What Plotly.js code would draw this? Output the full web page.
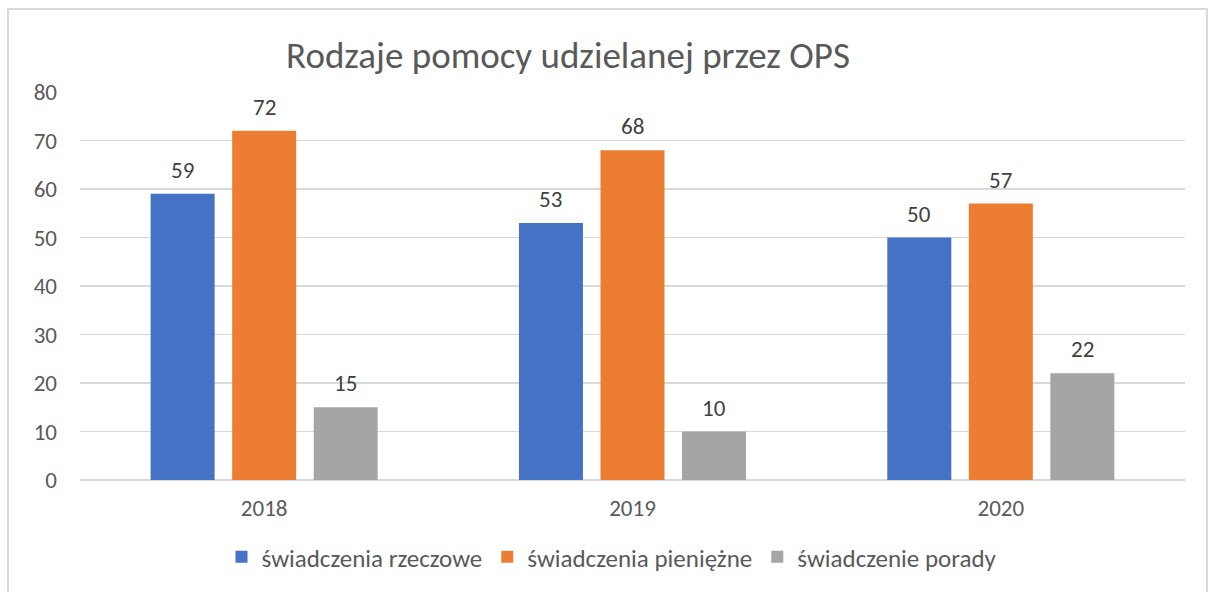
<!DOCTYPE html>
<html>
<head>
<meta charset="utf-8">
<script src="https://cdn.plot.ly/plotly-3.0.1.min.js"></script>
<style>html,body{margin:0;padding:0;background:#fff;}#chart{width:1209px;height:592px;}</style>
</head>
<body>
<div id="chart"></div>
<script>
const years = ['2018', '2019', '2020'];
const seriesNames = ['świadczenia rzeczowe', 'świadczenia pieniężne', 'świadczenie porady'];
const rzeczowe = [59, 53, 50];
const pieniezne = [72, 68, 57];
const porady = [15, 10, 22];
const colors = ['#4472C4', '#ED7D31', '#A5A5A5'];
const yTicks = [0, 10, 20, 30, 40, 50, 60, 70, 80];

const W = 1209, H = 592;
const m = {l: 80, r: 24, t: 92, b: 112};
const pw = W - m.l - m.r, ph = H - m.t - m.b;
const fx = px => (px - m.l) / pw;
const fy = py => (H - m.b - py) / ph;

const font = 'Calibri, Carlito, "Open Sans", sans-serif';
const seriesVals = [rzeczowe, pieniezne, porady];
const bargap = 0.336, bargroupgap = 0.215;
const slotPx = pw / years.length * (1 - bargap) / seriesVals.length;

const data = seriesVals.map((vals, i) => ({
  type: 'bar',
  name: seriesNames[i],
  x: years,
  y: vals,
  marker: {color: colors[i]}
}));

const annotations = [];
seriesVals.forEach((vals, i) => {
  vals.forEach((v, j) => {
    annotations.push({
      x: j, y: v, xref: 'x', yref: 'y',
      text: String(v), showarrow: false,
      xanchor: 'center', yanchor: 'middle',
      xshift: (i - 1) * slotPx, yshift: 24,
      font: {family: font, size: 23, color: '#404040'}
    });
  });
});

const layout = {
  width: W, height: H,
  margin: m,
  paper_bgcolor: '#fff', plot_bgcolor: '#fff',
  font: {family: font, color: '#595959'},
  barmode: 'group',
  bargap: bargap,
  bargroupgap: bargroupgap,
  title: {
    text: 'Rodzaje pomocy udzielanej przez OPS',
    font: {family: font, size: 37, color: '#595959'},
    x: 568 / W, xanchor: 'center', xref: 'container',
    y: 1 - 55 / H, yanchor: 'middle', yref: 'container'
  },
  xaxis: {
    type: 'category',
    categoryarray: years, categoryorder: 'array',
    range: [-0.5, years.length - 0.5],
    tickfont: {family: font, size: 23, color: '#595959'},
    showline: false, showgrid: false, ticks: '', ticklabelstandoff: 12
  },
  yaxis: {
    range: [0, 80],
    tickvals: yTicks,
    ticktext: yTicks.map(String),
    tickfont: {family: font, size: 23, color: '#595959'},
    gridcolor: '#D9D9D9', gridwidth: 1.5,
    zeroline: true, zerolinecolor: '#D9D9D9', zerolinewidth: 1.5,
    ticks: '', ticklabelstandoff: 22
  },
  showlegend: true,
  legend: {
    orientation: 'h',
    x: fx(612), xanchor: 'center',
    y: fy(557), yanchor: 'middle',
    font: {family: font, size: 25, color: '#595959'},
    itemwidth: 30,
    traceorder: 'normal'
  },
  annotations: annotations,
  shapes: [{
    type: 'rect', xref: 'paper', yref: 'paper',
    x0: fx(8), x1: fx(1207), y0: fy(595), y1: fy(9),
    line: {color: '#D9D9D9', width: 2}, fillcolor: 'rgba(0,0,0,0)', layer: 'below'
  }]
};

Plotly.newPlot('chart', data, layout, {displayModeBar: false, staticPlot: true});
</script>
</body>
</html>
